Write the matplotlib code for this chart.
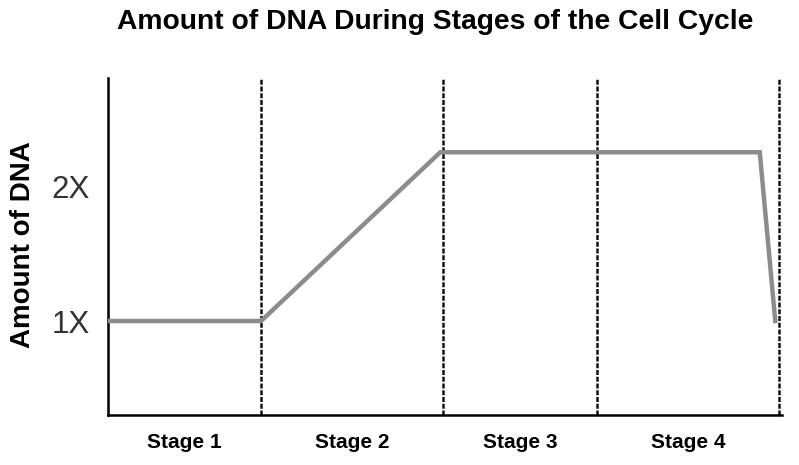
import matplotlib
matplotlib.use("Agg")
from matplotlib import pyplot as plt

plt.rcParams['font.family'] = ['Liberation Sans', 'DejaVu Sans']

# time axis runs 0..100, stage borders
stage_edges = [0, 22.7, 49.7, 72.6, 99.6]
stage_names = ["Stage 1", "Stage 2", "Stage 3", "Stage 4"]

# amount of DNA over time (in units of X)
time_pts = [0, 22.7, 49.3, 96.7, 99.0]
dna_pts = [1.0, 1.0, 2.25, 2.25, 1.0]

ytick_vals = [1, 2]
ytick_text = ["1X", "2X"]

fig = plt.figure(figsize=(7.99, 4.65), dpi=100)
ax = fig.add_axes([108 / 799, 1 - 415 / 465, 674 / 799, 337 / 465])

ax.plot(time_pts, dna_pts, color="#8c8c8c", lw=3.2, solid_joinstyle="miter", zorder=3)

for e in stage_edges[1:]:
    ax.axvline(e, color="#111111", lw=1.8, ls=(0, (2.0, 0.7)), zorder=2)

ax.set_xlim(0, 100)
ax.set_ylim(0.304, 2.8)

mids = [(stage_edges[i] + stage_edges[i + 1]) / 2 for i in range(4)]
ax.set_xticks(mids)
ax.set_xticklabels(stage_names, fontsize=15, fontweight="bold")
ax.set_yticks(ytick_vals)
ax.set_yticklabels(ytick_text, fontsize=22.5, color="#333333")
ax.tick_params(axis="both", length=0)
ax.tick_params(axis="x", pad=13)
ax.tick_params(axis="y", pad=13)

for s in ["top", "right"]:
    ax.spines[s].set_visible(False)
for s in ["left", "bottom"]:
    ax.spines[s].set_linewidth(1.8)
    ax.spines[s].set_color("black")

ax.set_ylabel("Amount of DNA", fontsize=20, fontweight="bold")
ax.yaxis.set_label_coords(-72 / 674, (415 - 245) / 337)

fig.text(435 / 799, 1 - 22 / 465, "Amount of DNA During Stages of the Cell Cycle",
         ha="center", va="center", fontsize=20.3, fontweight="bold")

fig.savefig("out.png", dpi=100)
